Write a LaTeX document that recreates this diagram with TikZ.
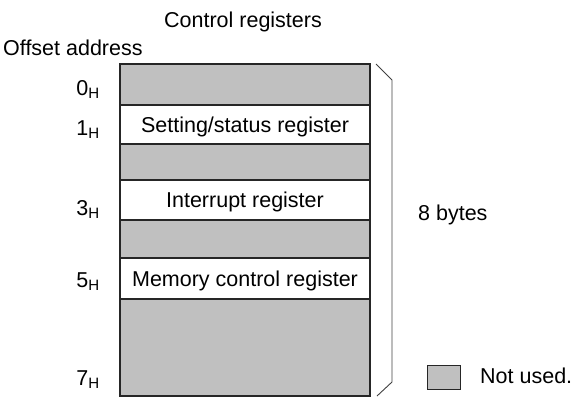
\documentclass[tikz,border=0pt]{standalone}
\usepackage{fontspec}
\setmainfont{Liberation Sans}
\usetikzlibrary{positioning}
\definecolor{unusedgray}{RGB}{192,192,192}

\begin{document}
\begin{tikzpicture}[x=1pt,y=-1pt,font=\fontsize{21.5}{25}\selectfont,
  row/.style = {draw=black!85, line width=1.1pt, minimum width=250pt, inner sep=0pt, outer sep=0pt, text depth=0pt},
  unused/.style = {row, fill=unusedgray},
  offset/.style = {anchor=base east, inner sep=0pt},]
\useasboundingbox (0,0) rectangle (571,397);
\node (title) [anchor=base, inner sep=0pt] at (243,27) {Control registers};
\node (offs) [anchor=base west, inner sep=0pt] at (3,55) {Offset address};
% register map, top to bottom
\node (r0) [unused, minimum height=41pt] at (245,84.5) {};
\node (r1) [row, minimum height=39pt] at (245,124.5) {Setting/status register};
\node (r2) [unused, minimum height=36pt] at (245,162) {};
\node (r3) [row, minimum height=40pt] at (245,200) {Interrupt register};
\node (r4) [unused, minimum height=38pt] at (245,239) {};
\node (r5) [row, minimum height=41pt] at (245,278.5) {Memory control register};
\node (r6) [unused, minimum height=97pt] at (245,347.5) {};
% offsets
\node (a0) [offset] at (100,95) {0\textsubscript{H}};
\node (a1) [offset] at (100,135) {1\textsubscript{H}};
\node (a3) [offset] at (100,215) {3\textsubscript{H}};
\node (a5) [offset] at (100,287) {5\textsubscript{H}};
\node (a7) [offset] at (100,385) {7\textsubscript{H}};
% bracket
\draw[black!75, line width=0.9pt] (376,64)--(392,80)--(392,382)--(377,396);
\node (size) [anchor=base west, inner sep=0pt] at (418,220) {8 bytes};
% legend
\node (key) [unused, minimum width=33pt, minimum height=24pt, line width=1pt] at (443.5,377) {};
\node (keytext) [anchor=base west, inner sep=0pt] at (480,383) {Not used.};
\end{tikzpicture}
\end{document}
